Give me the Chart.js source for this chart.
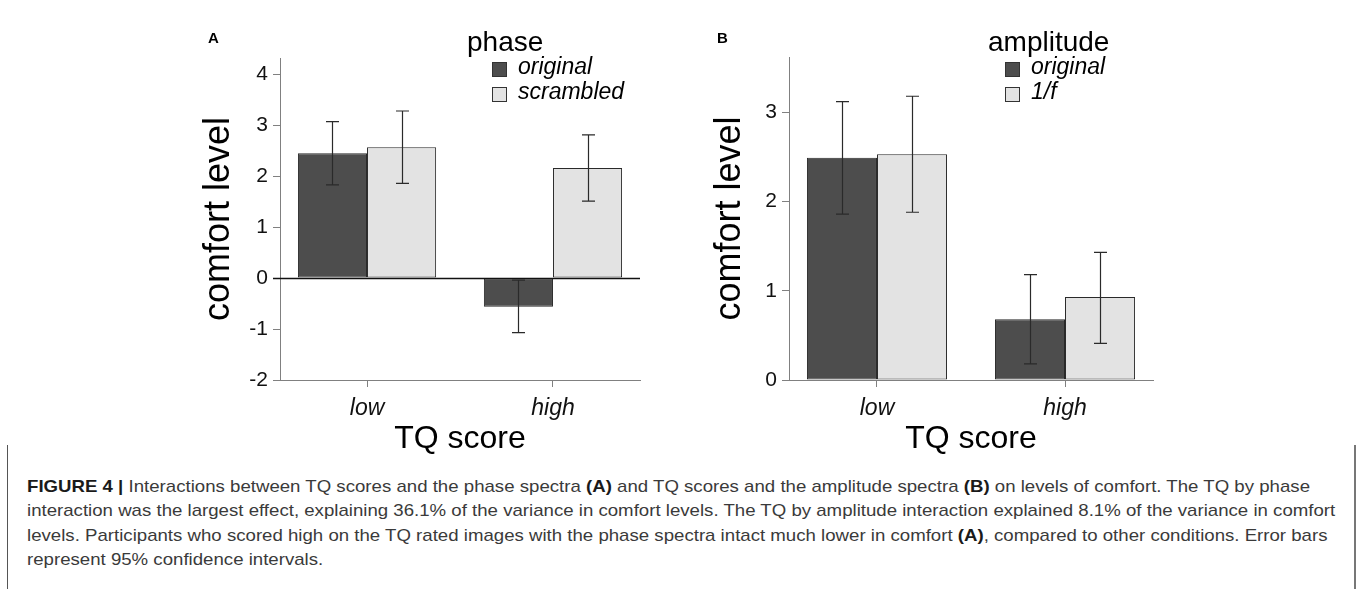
<!DOCTYPE html>
<html><head><meta charset="utf-8">
<script src="https://cdn.jsdelivr.net/npm/chart.js@4.4.1/dist/chart.umd.min.js"></script>
<style>
html,body{margin:0;padding:0;background:#fff;width:1357px;height:589px;overflow:hidden;position:relative;font-family:"Liberation Sans",Arial,sans-serif;}
#ca{position:absolute;left:180px;top:0;}
#cb{position:absolute;left:680px;top:0;}
.frame{position:absolute;top:445px;height:144px;width:0;}
#fl{left:7px;border-left:1.5px solid #555;}
#fr{left:1354px;border-left:2px solid #777;}
#caption{position:absolute;left:27px;top:475px;font-family:"Liberation Sans",Arial,sans-serif;color:#3a3a3a;line-height:24.3px;white-space:nowrap;font-size:17px;transform-origin:0 0;}
#caption b{color:#1a1a1a;}
</style></head>
<body>
<canvas id="ca" width="470" height="460"></canvas>
<canvas id="cb" width="490" height="460"></canvas>
<div class="frame" id="fl"></div>
<div class="frame" id="fr"></div>
<div id="caption"><span class="ln" id="ln1"><b>FIGURE 4 |</b> Interactions between TQ scores and the phase spectra <b>(A)</b> and TQ scores and the amplitude spectra <b>(B)</b> on levels of comfort. The TQ by phase</span><br><span class="ln">interaction was the largest effect, explaining 36.1% of the variance in comfort levels. The TQ by amplitude interaction explained 8.1% of the variance in comfort</span><br><span class="ln">levels. Participants who scored high on the TQ rated images with the phase spectra intact much lower in comfort <b>(A)</b>, compared to other conditions. Error bars</span><br><span class="ln">represent 95% confidence intervals.</span></div>
<script>
// ---- data ----
const categories = ['low', 'high'];
const phaseLabels = ['original', 'scrambled'];
const phaseOriginal = [2.45, -0.56];
const phaseOriginalLow = [1.83, -1.07];
const phaseOriginalHigh = [3.07, -0.04];
const phaseScrambled = [2.57, 2.16];
const phaseScrambledLow = [1.86, 1.51];
const phaseScrambledHigh = [3.28, 2.81];

const ampLabels = ['original', '1/f'];
const ampOriginal = [2.49, 0.68];
const ampOriginalLow = [1.86, 0.18];
const ampOriginalHigh = [3.12, 1.18];
const ampOneF = [2.53, 0.93];
const ampOneFLow = [1.88, 0.41];
const ampOneFHigh = [3.18, 1.43];

const yTicksA = [-2, -1, 0, 1, 2, 3, 4];
const yTicksB = [0, 1, 2, 3];

// ---- caption width fit (condensed look) ----
(function () {
  const cap = document.getElementById('caption');
  const w = document.getElementById('ln1').getBoundingClientRect().width;
  const s = (1310 - 27) / w;
  cap.style.transform = 'scaleX(' + s + ')';
})();

// ---- styling ----
const DARK = '#4d4d4d', LIGHT = '#e3e3e3', EDGE = '#2a2a2a', AXIS = '#808080';
const FONT = '"Liberation Sans", Arial, sans-serif';

const decor = {
  id: 'decor',
  afterDatasetsDraw(chart, args, o) {
    const ctx = chart.ctx, ys = chart.scales.y, ca = chart.chartArea;
    ctx.save();
    if (o.zeroLine) {
      const y = Math.round(ys.getPixelForValue(0)) + 0.5;
      ctx.strokeStyle = '#111'; ctx.lineWidth = 1.5;
      ctx.beginPath(); ctx.moveTo(ca.left - 7, y); ctx.lineTo(ca.right, y); ctx.stroke();
    }
    chart.data.datasets.forEach((ds, i) => {
      const meta = chart.getDatasetMeta(i);
      meta.data.forEach((el, j) => {
        const lo = ys.getPixelForValue(ds.errLow[j]);
        const hi = ys.getPixelForValue(ds.errHigh[j]);
        const x = Math.round(el.x) + 0.5;
        ctx.strokeStyle = '#2a2a2a'; ctx.lineWidth = 1.2;
        ctx.beginPath();
        ctx.moveTo(x, lo); ctx.lineTo(x, hi);
        ctx.moveTo(x - 6.5, lo); ctx.lineTo(x + 6.5, lo);
        ctx.moveTo(x - 6.5, hi); ctx.lineTo(x + 6.5, hi);
        ctx.stroke();
      });
    });
    ctx.restore();
  },
  afterDraw(chart, args, o) {
    const ctx = chart.ctx;
    ctx.save();
    ctx.fillStyle = '#000';
    ctx.textBaseline = 'alphabetic';
    ctx.textAlign = 'left';
    ctx.font = 'bold 15px ' + FONT;
    ctx.fillText(o.letter, o.letterX, o.letterY);
    ctx.font = '28px ' + FONT;
    ctx.fillText(o.title, o.titleX, o.titleY);
    ctx.font = 'italic 23px ' + FONT;
    ctx.textBaseline = 'middle';
    chart.data.datasets.forEach((ds, i) => {
      const y = o.legendY + i * o.legendGap;
      ctx.fillStyle = ds.backgroundColor;
      ctx.fillRect(o.legendX, y - 7, 14, 14);
      ctx.strokeStyle = '#333'; ctx.lineWidth = 1;
      ctx.strokeRect(o.legendX + 0.5, y - 6.5, 14, 14);
      ctx.fillStyle = '#000';
      ctx.fillText(ds.label, o.legendX + 26, y - 1);
    });
    ctx.restore();
  }
};

function makeChart(id, labels, series, ticks, yMin, yMax, catPct, padRight, padTop, yWidth, yTitlePad, deco) {
  const colors = [DARK, LIGHT];
  return new Chart(document.getElementById(id), {
    type: 'bar',
    data: {
      datasets: series.map((s, i) => ({
        label: labels[i],
        data: categories.map((c, k) => ({ x: k, y: s.v[k] })),
        errLow: s.lo, errHigh: s.hi,
        backgroundColor: colors[i],
        borderColor: EDGE,
        borderWidth: 1,
        borderSkipped: false,
        categoryPercentage: catPct,
        barPercentage: 1.0
      }))
    },
    options: {
      responsive: false,
      animation: false,
      events: [],
      layout: { padding: { left: 0, right: padRight, top: padTop, bottom: 0 } },
      plugins: { legend: { display: false }, tooltip: { enabled: false }, decor: deco },
      scales: {
        x: {
          type: 'linear', offset: false, min: -0.468, max: 1.468,
          afterBuildTicks: (s) => { s.ticks = categories.map((c, k) => ({ value: k })); },
          afterFit: (s) => { s.height = 80; },
          grid: { offset: false, drawOnChartArea: false, drawTicks: true, tickLength: 7, color: AXIS, lineWidth: 1 },
          border: { display: true, color: AXIS, width: 1 },
          ticks: { callback: (v) => categories[v], font: { family: FONT, size: 23, style: 'italic' }, color: '#111', padding: 8, maxRotation: 0 },
          title: { display: true, text: 'TQ score', font: { family: FONT, size: 32 }, color: '#000', padding: { top: 0, bottom: 2 } }
        },
        y: {
          min: yMin, max: yMax,
          afterBuildTicks: (s) => { s.ticks = ticks.map(v => ({ value: v })); },
          afterFit: (s) => { s.width = yWidth; },
          grid: { drawOnChartArea: false, drawTicks: true, tickLength: 7, color: AXIS, lineWidth: 1 },
          border: { display: true, color: AXIS, width: 1 },
          ticks: { font: { family: FONT, size: 21 }, color: '#111', padding: 5 },
          title: { display: true, text: 'comfort level', font: { family: FONT, size: 36 }, color: '#000', padding: { top: yTitlePad, bottom: 0 } }
        }
      }
    },
    plugins: [decor]
  });
}

makeChart('ca', phaseLabels,
  [{ v: phaseOriginal, lo: phaseOriginalLow, hi: phaseOriginalHigh },
   { v: phaseScrambled, lo: phaseScrambledLow, hi: phaseScrambledHigh }],
  yTicksA, -2, 4.32, 0.743, 10, 58, 100, 17,
  { zeroLine: true, letter: 'A', letterX: 28, letterY: 43, title: 'phase', titleX: 287, titleY: 51,
    legendX: 312, legendY: 69, legendGap: 25 });

makeChart('cb', ampLabels,
  [{ v: ampOriginal, lo: ampOriginalLow, hi: ampOriginalHigh },
   { v: ampOneF, lo: ampOneFLow, hi: ampOneFHigh }],
  yTicksB, 0, 3.62, 0.745, 17, 57, 109, 28,
  { zeroLine: false, letter: 'B', letterX: 37, letterY: 43, title: 'amplitude', titleX: 308, titleY: 51,
    legendX: 325, legendY: 69, legendGap: 25 });
</script>
</body></html>
